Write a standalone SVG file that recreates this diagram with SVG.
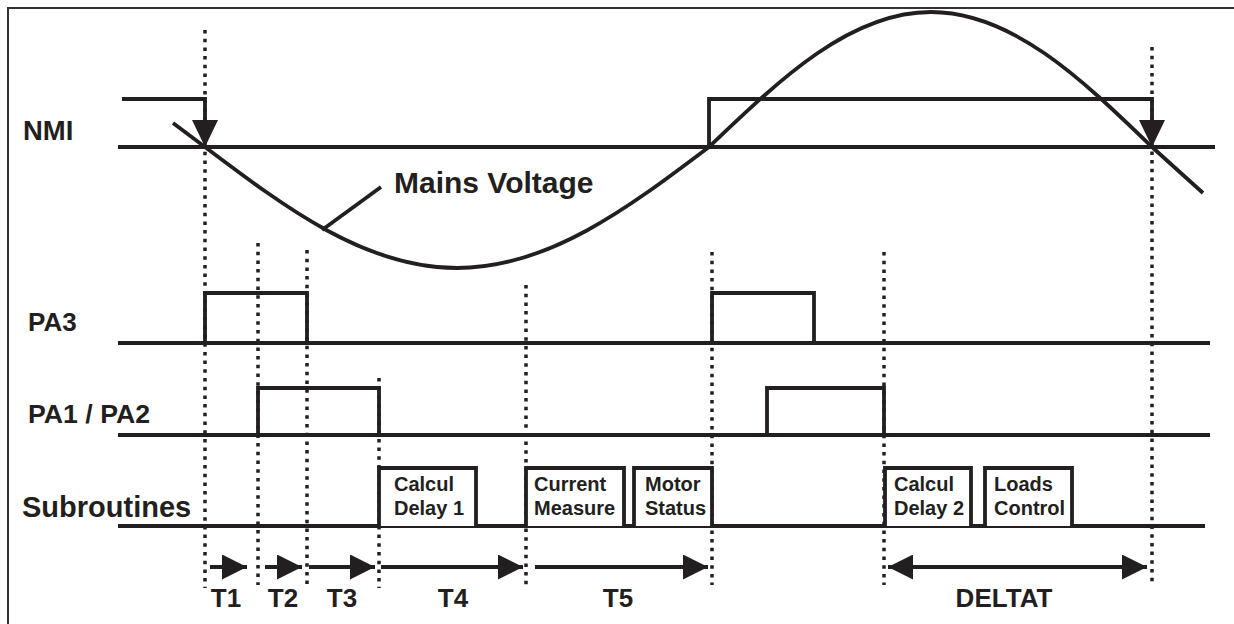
<svg xmlns="http://www.w3.org/2000/svg" width="1234" height="624" viewBox="0 0 1234 624">
<style>
  .sig{fill:none;stroke:#231f20;stroke-width:3.8;stroke-linejoin:miter}
  .base{fill:none;stroke:#231f20;stroke-width:4}
  .dot{fill:none;stroke:#231f20;stroke-width:3.5;stroke-dasharray:3.5 5.2}
  .lbl{font-family:"Liberation Sans",Arial,sans-serif;font-weight:bold;font-size:26px;fill:#231f20}
  .box{fill:#fff;stroke:#231f20;stroke-width:3.8}
  .btx{font-family:"Liberation Sans",Arial,sans-serif;font-weight:bold;font-size:20px;fill:#231f20}
  .arr{fill:none;stroke:#231f20;stroke-width:3.8}
  .head{fill:#231f20}
</style>
<defs>
  <marker id="ah" viewBox="0 0 25 25" refX="25" refY="12.5" markerWidth="25" markerHeight="25" markerUnits="userSpaceOnUse" orient="auto-start-reverse">
    <path d="M0,0 L25,12.5 L0,25 Z" fill="#231f20"/>
  </marker>
</defs>
<rect x="8" y="8" width="1240" height="640" fill="#fff" stroke="#333" stroke-width="2"/>

<g id="guides">
  <line class="dot" x1="205" y1="30" x2="205" y2="588"/>
  <line class="dot" x1="258" y1="243" x2="258" y2="585"/>
  <line class="dot" x1="307" y1="250" x2="307" y2="585"/>
  <line class="dot" x1="379" y1="378" x2="379" y2="588"/>
  <line class="dot" x1="526" y1="285" x2="526" y2="585"/>
  <line class="dot" x1="712" y1="252" x2="712" y2="585"/>
  <line class="dot" x1="884" y1="252" x2="884" y2="585"/>
  <line class="dot" x1="1152" y1="47" x2="1152" y2="585"/>
</g>

<g id="mains">
  <path class="sig" d="M173,123 L205,147 C287.2,209 365.8,268 457,268 C548.2,268 626.8,209 709,147 C781.4,77.8 850.7,12 931,12 C1011.3,12 1080.6,77.8 1152,147 L1203,193"/>
  <line class="sig" x1="322" y1="230" x2="381" y2="187"/>
  <text class="lbl" x="394" y="193" style="font-size:30px">Mains Voltage</text>
</g>

<g id="nmi">
  <text class="lbl" x="23" y="140" style="font-size:27.5px">NMI</text>
  <line class="base" x1="118" y1="147" x2="1215" y2="147"/>
  <path class="sig" d="M122,99 H205 V124"/>
  <path class="head" d="M192,120 L218,120 L205,147 Z"/>
  <path class="sig" d="M709,147 V99 H1152 V124"/>
  <path class="head" d="M1139,120 L1165,120 L1152,147 Z"/>
</g>

<g id="pa3">
  <text class="lbl" x="28" y="331">PA3</text>
  <line class="base" x1="118" y1="343" x2="1210" y2="343"/>
  <path class="sig" d="M205,343 V293 H307 V343"/>
  <path class="sig" d="M712,343 V293 H814 V343"/>
</g>

<g id="pa12">
  <text class="lbl" x="28" y="423" style="font-size:26.7px">PA1 / PA2</text>
  <line class="base" x1="118" y1="435" x2="1210" y2="435"/>
  <path class="sig" d="M258,435 V388 H379 V435"/>
  <path class="sig" d="M767,435 V388 H884 V435"/>
</g>

<g id="subroutines">
  <text class="lbl" x="22" y="517" style="font-size:29px">Subroutines</text>
  <line class="base" x1="118" y1="526" x2="1205" y2="526"/>
  <g id="calcul1">
    <path class="box" d="M379,526 V468 H476 V526"/>
    <text class="btx" x="394" y="491">Calcul</text>
    <text class="btx" x="394" y="515">Delay 1</text>
  </g>
  <g id="current">
    <path class="box" d="M526,526 V468 H624 V526"/>
    <text class="btx" x="534" y="491">Current</text>
    <text class="btx" x="534" y="515">Measure</text>
  </g>
  <g id="motor">
    <path class="box" d="M634,526 V468 H712 V526"/>
    <text class="btx" x="645" y="491">Motor</text>
    <text class="btx" x="645" y="515">Status</text>
  </g>
  <g id="calcul2">
    <path class="box" d="M885,526 V468 H971 V526"/>
    <text class="btx" x="894" y="491">Calcul</text>
    <text class="btx" x="894" y="515">Delay 2</text>
  </g>
  <g id="loads">
    <path class="box" d="M985,526 V468 H1072 V526"/>
    <text class="btx" x="994" y="491">Loads</text>
    <text class="btx" x="994" y="515">Control</text>
  </g>
</g>

<g id="connectors">
  <line class="arr" x1="210" y1="567" x2="247" y2="567" marker-end="url(#ah)"/>
  <line class="arr" x1="265" y1="567" x2="302" y2="567" marker-end="url(#ah)"/>
  <line class="arr" x1="309" y1="567" x2="375" y2="567" marker-end="url(#ah)"/>
  <line class="arr" x1="381" y1="567" x2="523" y2="567" marker-end="url(#ah)"/>
  <line class="arr" x1="535" y1="567" x2="708" y2="567" marker-end="url(#ah)"/>
  <line class="arr" x1="888" y1="567" x2="1147" y2="567" marker-start="url(#ah)" marker-end="url(#ah)"/>
</g>

<g id="timelabels">
  <text class="lbl" x="226" y="607" text-anchor="middle">T1</text>
  <text class="lbl" x="283" y="607" text-anchor="middle">T2</text>
  <text class="lbl" x="342" y="607" text-anchor="middle">T3</text>
  <text class="lbl" x="453" y="607" text-anchor="middle">T4</text>
  <text class="lbl" x="618" y="607" text-anchor="middle">T5</text>
  <text class="lbl" x="1004" y="607" text-anchor="middle">DELTAT</text>
</g>
</svg>
